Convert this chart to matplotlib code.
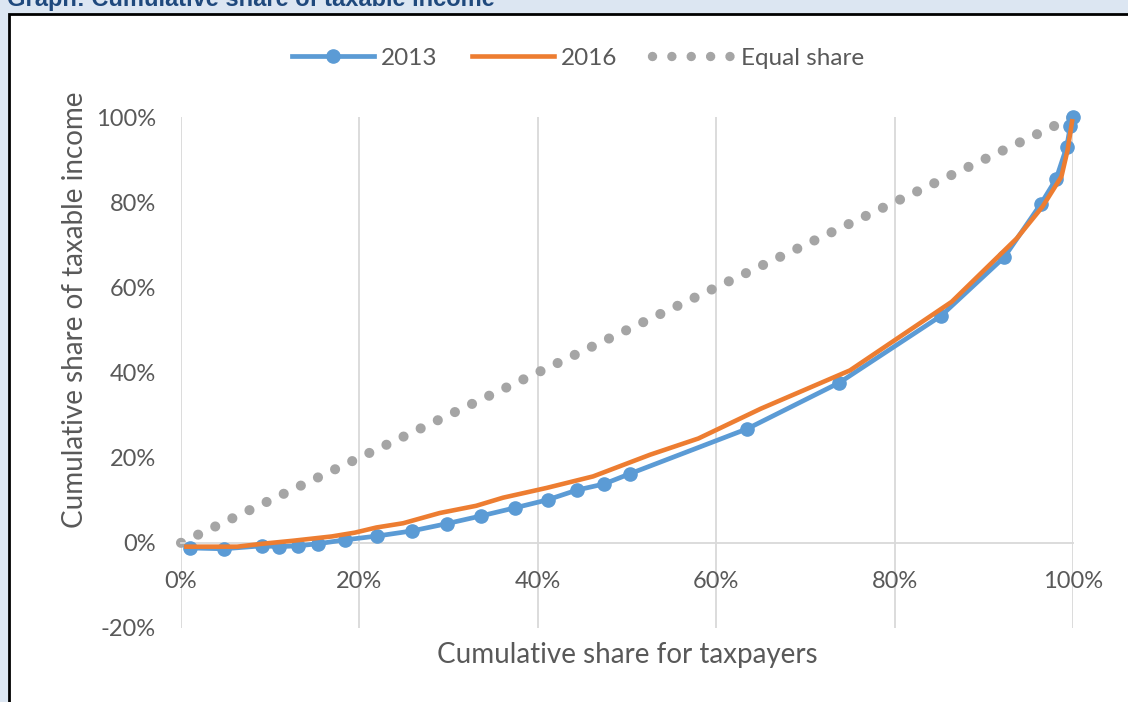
import matplotlib
matplotlib.use("Agg")
import matplotlib.pyplot as plt
from matplotlib.lines import Line2D
from matplotlib.patches import Rectangle
from matplotlib.ticker import PercentFormatter

# data (shares in %)
x_2013 = [1.0, 4.8, 9.1, 11.0, 13.1, 15.4, 18.4, 22.0, 25.9, 29.8, 33.6, 37.4,
          41.1, 44.4, 47.4, 50.3, 63.5, 73.8, 85.2, 92.3, 96.4, 98.1, 99.3, 99.7, 100.0]
y_2013 = [-1.2, -1.4, -0.7, -0.9, -0.7, -0.2, 0.7, 1.6, 2.8, 4.5, 6.3, 8.2,
          10.1, 12.4, 13.8, 16.2, 26.8, 37.6, 53.3, 67.1, 79.6, 85.4, 93.0, 97.9, 100.0]

x_2016 = [0.6, 6.3, 9.2, 12.6, 16.9, 19.5, 21.9, 24.9, 29.0, 33.1, 36.1, 41.0,
          46.2, 52.6, 58.0, 65.0, 75.0, 86.4, 93.7, 96.6, 98.7, 99.4, 99.9]
y_2016 = [-0.9, -0.9, -0.2, 0.5, 1.5, 2.4, 3.6, 4.6, 7.0, 8.7, 10.6, 12.9,
          15.6, 20.7, 24.5, 31.5, 40.5, 56.6, 71.5, 79.0, 86.0, 92.3, 99.0]

x_equal = [0, 100]
y_equal = [0, 100]

x_ticks = [0, 20, 40, 60, 80, 100]
y_ticks = [-20, 0, 20, 40, 60, 80, 100]

plt.rcParams['font.family'] = ['Lato', 'DejaVu Sans']
plt.rcParams['axes.unicode_minus'] = False

fig = plt.figure(figsize=(11.28, 7.02), dpi=100)
fig.patch.set_facecolor('#dce6f2')

# white chart box with black frame
fig.patches.append(Rectangle((9 / 1128, -0.05), 1.2, 1 - 14 / 702 + 0.05,
                             transform=fig.transFigure, facecolor='white',
                             edgecolor='black', linewidth=2, zorder=-1))
fig.text(7 / 1128, 1 - 6 / 702, 'Graph: Cumulative share of taxable income',
         fontsize=17, fontweight='bold', color='#1f497d',
         family='Liberation Sans', va='baseline', ha='left')

ax = fig.add_axes([181 / 1128, 1 - 628 / 702, 892 / 1128, 511 / 702])
ax.set_facecolor('none')
ax.set_zorder(1)

eq, = ax.plot(x_equal, y_equal, color='#a5a5a5', linewidth=7.3,
              linestyle=(0, (0.001, 1.87)), dash_capstyle='round',
              zorder=2, clip_on=False)
l13, = ax.plot(x_2013, y_2013, color='#5b9bd5', linewidth=3.4, marker='o',
               markersize=9.5, zorder=3, clip_on=False)
l16, = ax.plot(x_2016, y_2016, color='#ed7d31', linewidth=3.3, zorder=4,
               clip_on=False)

ax.set_xlim(0, 100)
ax.set_ylim(-20, 100)
ax.set_xticks(x_ticks)
ax.set_yticks(y_ticks)
ax.xaxis.set_major_formatter(PercentFormatter(decimals=0))
ax.yaxis.set_major_formatter(PercentFormatter(decimals=0))
ax.grid(axis='x', color='#d9d9d9', linewidth=1.3)
ax.set_axisbelow(True)
for s in ['top', 'right', 'left']:
    ax.spines[s].set_visible(False)
ax.spines['bottom'].set_position(('data', 0))
ax.spines['bottom'].set_color('#d9d9d9')
ax.spines['bottom'].set_linewidth(1.3)
ax.tick_params(axis='both', length=0, labelsize=17, labelcolor='#595959')
ax.tick_params(axis='x', pad=20)
ax.tick_params(axis='y', pad=18)

fig.text(627 / 1128, 1 - 655 / 702, 'Cumulative share for taxpayers',
         fontsize=20, color='#595959', ha='center', va='center')
fig.text(75 / 1128, 1 - 310 / 702, 'Cumulative share of taxable income',
         fontsize=20, color='#595959', ha='center', va='center', rotation=90)

# legend handle for the dotted line, with slightly wider dots like the original
eq_handle = Line2D([], [], color='#a5a5a5', linewidth=6.8,
                   linestyle=(0, (0.001, 2.05)), dash_capstyle='round')
fig.legend([l13, l16, eq_handle], ['2013', '2016', 'Equal share'],
           loc='center', bbox_to_anchor=(578 / 1128, 1 - 58 / 702), ncol=3,
           frameon=False, fontsize=17.5, handlelength=3.37, columnspacing=1.4,
           handletextpad=0.3, labelcolor='#595959')

fig.savefig('out.png', dpi=100, facecolor=fig.get_facecolor())
